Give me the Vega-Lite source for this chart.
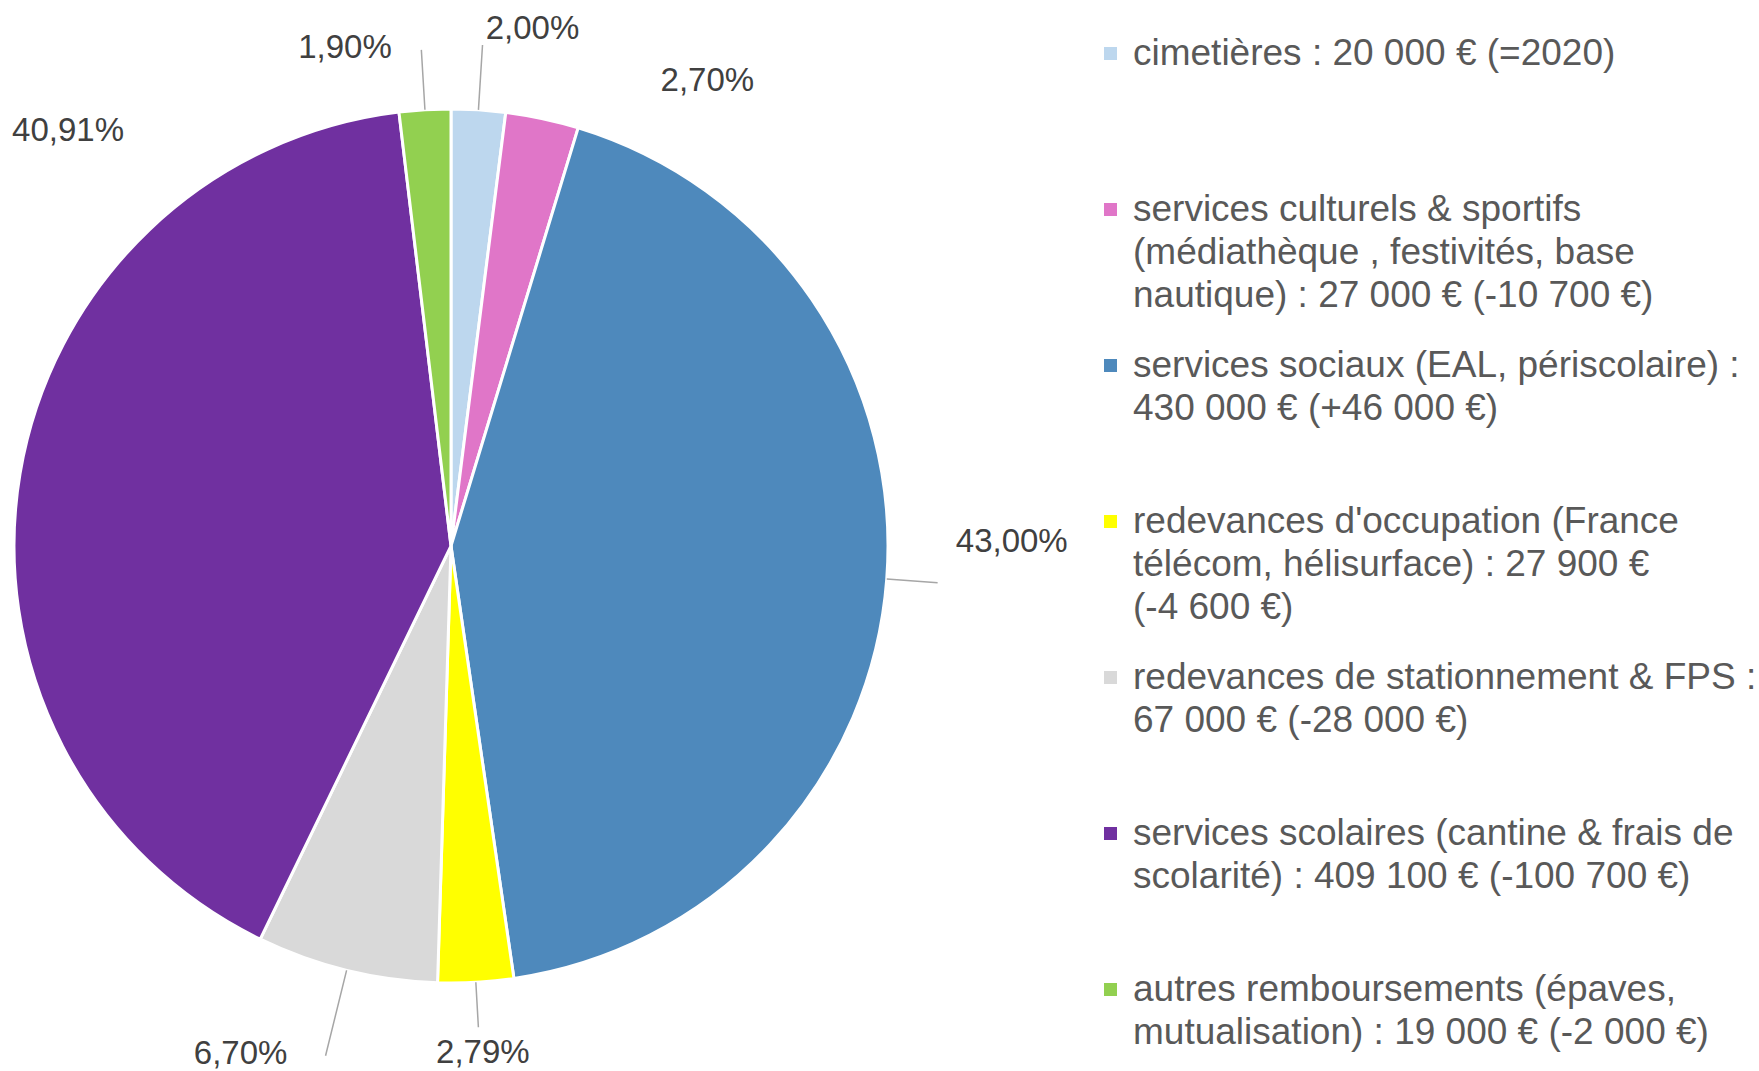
{
  "$schema": "https://vega.github.io/schema/vega-lite/v6.json",
  "width": 902,
  "height": 1050,
  "autosize": {"type": "none"},
  "padding": {"left": 0, "top": 21, "right": 857, "bottom": 0},
  "background": "white",
  "config": {
    "view": {"stroke": null},
    "style": {"guide-label": {"lineHeight": 43}}
  },
  "data": {
    "values": [
      {"idx": 1, "cat": "cimetières : 20 000 € (=2020)", "value": 20000, "label": "2,00%"},
      {"idx": 2, "cat": "services culturels & sportifs\n(médiathèque , festivités, base\nnautique) : 27 000 €  (-10 700 €)", "value": 27000, "label": "2,70%"},
      {"idx": 3, "cat": "services sociaux (EAL, périscolaire) :\n430 000 € (+46 000 €)", "value": 430000, "label": "43,00%"},
      {"idx": 4, "cat": "redevances d'occupation (France\ntélécom, hélisurface) : 27 900 €\n(-4 600 €)", "value": 27900, "label": "2,79%"},
      {"idx": 5, "cat": "redevances de stationnement & FPS :\n67 000 € (-28 000 €)", "value": 67000, "label": "6,70%"},
      {"idx": 6, "cat": "services scolaires (cantine & frais de\nscolarité) : 409 100 € (-100 700 €)", "value": 409100, "label": "40,91%"},
      {"idx": 7, "cat": "autres remboursements (épaves,\nmutualisation) : 19 000 € (-2 000 €)", "value": 19000, "label": "1,90%"}
    ]
  },
  "encoding": {
    "theta": {"field": "value", "type": "quantitative", "stack": true},
    "order": {"field": "idx", "type": "quantitative"}
  },
  "layer": [
    {
      "mark": {"type": "arc", "radius": 437, "stroke": "white", "strokeWidth": 3},
      "encoding": {
        "color": {
          "field": "cat",
          "type": "nominal",
          "scale": {
            "domain": [
              "cimetières : 20 000 € (=2020)",
              "services culturels & sportifs\n(médiathèque , festivités, base\nnautique) : 27 000 €  (-10 700 €)",
              "services sociaux (EAL, périscolaire) :\n430 000 € (+46 000 €)",
              "redevances d'occupation (France\ntélécom, hélisurface) : 27 900 €\n(-4 600 €)",
              "redevances de stationnement & FPS :\n67 000 € (-28 000 €)",
              "services scolaires (cantine & frais de\nscolarité) : 409 100 € (-100 700 €)",
              "autres remboursements (épaves,\nmutualisation) : 19 000 € (-2 000 €)"
            ],
            "range": ["#BDD7EE", "#E076C8", "#4E89BC", "#FFFF00", "#D9D9D9", "#7030A0", "#92D050"]
          },
          "legend": {
            "title": null,
            "orient": "none",
            "legendX": 1092,
            "legendY": 14,
            "padding": 0,
            "direction": "vertical",
            "columns": 1,
            "gridAlign": "all",
            "rowPadding": 32,
            "symbolType": "square",
            "symbolSize": 169,
            "symbolStrokeWidth": 0,
            "symbolOpacity": 1,
            "labelOffset": 4,
            "labelBaseline": "middle",
            "labelFont": "Liberation Sans, Arial, sans-serif",
            "labelFontSize": 37,
            "labelColor": "#595959",
            "labelLimit": 700,
            "labelExpr": "split(datum.label, '\\n')"
          }
        }
      }
    },
    {
      "mark": {"type": "arc", "radius": 502, "radius2": 437, "padAngle": 3.2, "fillOpacity": 0, "stroke": "#A6A6A6", "strokeWidth": 1.5},
      "encoding": {"strokeOpacity": {"condition": {"test": "datum.idx == 1", "value": 1}, "value": 0}}
    },
    {
      "mark": {"type": "arc", "radius": 488, "radius2": 437, "padAngle": 3.2, "fillOpacity": 0, "stroke": "#A6A6A6", "strokeWidth": 1.5},
      "encoding": {"strokeOpacity": {"condition": {"test": "datum.idx == 3", "value": 1}, "value": 0}}
    },
    {
      "mark": {"type": "arc", "radius": 482, "radius2": 437, "padAngle": 3.2, "fillOpacity": 0, "stroke": "#A6A6A6", "strokeWidth": 1.5},
      "encoding": {"strokeOpacity": {"condition": {"test": "datum.idx == 4", "value": 1}, "value": 0}}
    },
    {
      "mark": {"type": "arc", "radius": 525, "radius2": 437, "padAngle": 3.2, "fillOpacity": 0, "stroke": "#A6A6A6", "strokeWidth": 1.5},
      "encoding": {"strokeOpacity": {"condition": {"test": "datum.idx == 5", "value": 1}, "value": 0}}
    },
    {
      "mark": {"type": "arc", "radius": 497, "radius2": 437, "padAngle": 3.2, "fillOpacity": 0, "stroke": "#A6A6A6", "strokeWidth": 1.5},
      "encoding": {"strokeOpacity": {"condition": {"test": "datum.idx == 7", "value": 1}, "value": 0}}
    },
    {
      "mark": {
        "type": "text",
        "radius": 437,
        "font": "Liberation Sans, Arial, sans-serif",
        "fontSize": 33,
        "color": "#404040",
        "align": "center",
        "baseline": "middle",
        "dx": {"expr": "datum.idx == 1 ? 54 : datum.idx == 2 ? 165 : datum.idx == 3 ? 125 : datum.idx == 4 ? 7 : datum.idx == 5 ? -106 : datum.idx == 6 ? 48 : -80"},
        "dy": {"expr": "datum.idx == 1 ? -81 : datum.idx == 2 ? -38 : datum.idx == 3 ? -37 : datum.idx == 4 ? 71 : datum.idx == 5 ? 84 : datum.idx == 6 ? -343 : -62"}
      },
      "encoding": {"text": {"field": "label", "type": "nominal"}}
    }
  ]
}
